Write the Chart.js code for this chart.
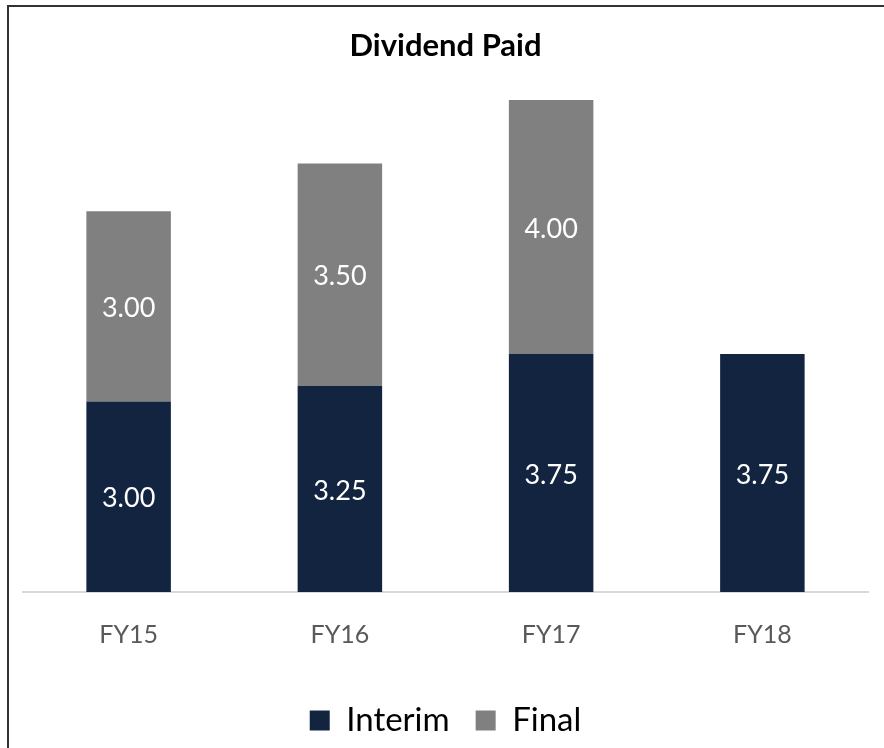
<!DOCTYPE html>
<html>
<head>
<meta charset="utf-8">
<title>Dividend Paid</title>
<script src="https://cdn.jsdelivr.net/npm/chart.js@4"></script>
<style>
    html, body { margin: 0; padding: 0; background: #fff; overflow: hidden; }
    #frame { position: absolute; left: 7px; top: 5px; width: 1000px; height: 900px; border: 2px solid #333; }
    #wrap { position: absolute; left: 0; top: 0; width: 884px; height: 748px; }
</style>
</head>
<body>
<div id="frame"></div>
<div id="wrap"><canvas id="dividendChart"></canvas></div>
<script>
// Dados do gráfico
const years = ["FY15", "FY16", "FY17", "FY18"];
const interim = [3.00, 3.25, 3.75, 3.75];
const final = [3.00, 3.50, 4.00, null];

const fontFamily = "Lato, 'Open Sans', sans-serif";

// Rótulos brancos no meio de cada segmento
const barLabels = {
    id: 'barLabels',
    afterDatasetsDraw(chart) {
        const ctx = chart.ctx;
        ctx.save();
        ctx.fillStyle = '#ffffff';
        ctx.font = `27px ${fontFamily}`;
        ctx.textAlign = 'center';
        ctx.textBaseline = 'middle';
        chart.data.datasets.forEach((ds, i) => {
            const meta = chart.getDatasetMeta(i);
            meta.data.forEach((bar, j) => {
                const v = ds.data[j];
                if (v === null || v === undefined) return;
                ctx.fillText(v.toFixed(2), bar.x, (bar.y + bar.base) / 2 + 2);
            });
        });
        ctx.restore();
    }
};

const ctx = document.getElementById('dividendChart').getContext('2d');
new Chart(ctx, {
    type: 'bar',
    data: {
        labels: years,
        datasets: [
            { label: 'Interim', data: interim, backgroundColor: '#12243f' },
            { label: 'Final', data: final, backgroundColor: '#808080' }
        ]
    },
    options: {
        responsive: true,
        maintainAspectRatio: false,
        animation: false,
        layout: { padding: { left: 23, right: 16, top: 0, bottom: 1 } },
        datasets: { bar: { barPercentage: 0.4, categoryPercentage: 1.0 } },
        scales: {
            x: {
                stacked: true,
                grid: { display: false, drawTicks: false },
                border: { display: true, color: '#d9d9d9', width: 2 },
                ticks: { color: '#595959', font: { family: fontFamily, size: 25 }, padding: 28 }
            },
            y: {
                stacked: true,
                display: false,
                min: 0,
                max: 8
            }
        },
        plugins: {
            title: {
                display: true,
                text: 'Dividend Paid',
                color: '#000',
                font: { family: fontFamily, size: 31, weight: 'bold' },
                padding: { top: 27, bottom: 20 }
            },
            legend: {
                position: 'bottom',
                labels: {
                    color: '#000',
                    font: { family: fontFamily, size: 33 },
                    boxWidth: 20,
                    boxHeight: 20,
                    padding: 26
                }
            },
            tooltip: { enabled: false }
        }
    },
    plugins: [barLabels]
});
</script>
</body>
</html>
